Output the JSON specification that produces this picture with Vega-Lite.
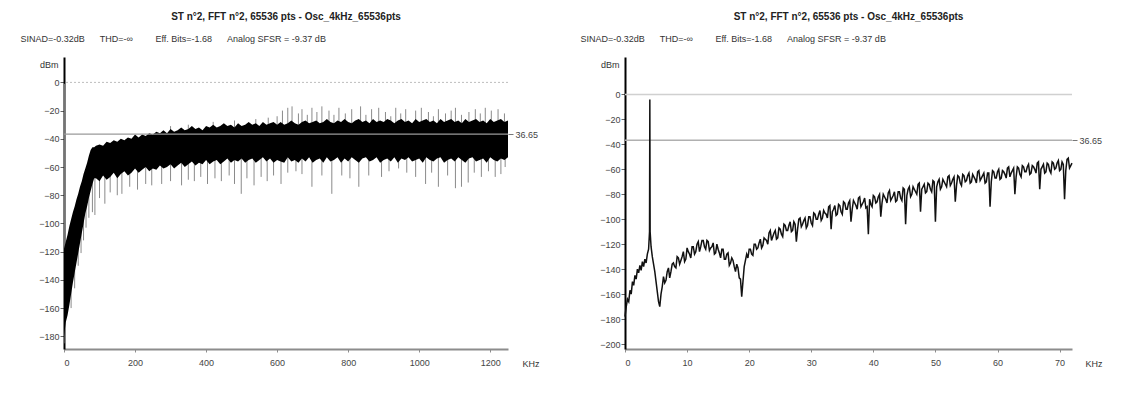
{
  "$schema": "https://vega.github.io/schema/vega-lite/v6.json",
  "background": "white",
  "padding": {"left": 20, "top": 12, "right": 0, "bottom": 0},
  "spacing": 40,
  "config": {"font": "Liberation Sans", "view": {"stroke": null}},
  "datasets": {
    "leftBand": [
      {"f":0,"hi":-118,"lo":-180},{"f":5,"hi":-113,"lo":-170},{"f":10,"hi":-108,"lo":-165},{"f":15,"hi":-102,"lo":-158},
      {"f":20,"hi":-97,"lo":-150},{"f":25,"hi":-92,"lo":-142},{"f":30,"hi":-88,"lo":-135},{"f":35,"hi":-83,"lo":-128},
      {"f":40,"hi":-79,"lo":-121},{"f":45,"hi":-74,"lo":-114},{"f":50,"hi":-70,"lo":-107},{"f":55,"hi":-65,"lo":-100},
      {"f":60,"hi":-61,"lo":-93},{"f":65,"hi":-57,"lo":-88},{"f":70,"hi":-52,"lo":-82},{"f":75,"hi":-48,"lo":-77},
      {"f":80,"hi":-46,"lo":-72},{"f":85,"hi":-46,"lo":-68},
      {"f":90,"hi":-45,"lo":-68},{"f":100,"hi":-44,"lo":-70},{"f":110,"hi":-45,"lo":-66},{"f":120,"hi":-42,"lo":-69},
      {"f":130,"hi":-43,"lo":-67},{"f":140,"hi":-41,"lo":-64},{"f":150,"hi":-42,"lo":-68},{"f":160,"hi":-40,"lo":-65},
      {"f":170,"hi":-41,"lo":-63},{"f":180,"hi":-39,"lo":-66},{"f":190,"hi":-40,"lo":-64},{"f":200,"hi":-37,"lo":-61},
      {"f":210,"hi":-39,"lo":-64},{"f":220,"hi":-37,"lo":-62},{"f":230,"hi":-38,"lo":-60},{"f":240,"hi":-36,"lo":-63},
      {"f":250,"hi":-37,"lo":-61},{"f":260,"hi":-35,"lo":-62},{"f":270,"hi":-36,"lo":-59},{"f":280,"hi":-34,"lo":-61},
      {"f":290,"hi":-36,"lo":-60},{"f":300,"hi":-33,"lo":-58},{"f":310,"hi":-35,"lo":-61},{"f":320,"hi":-34,"lo":-59},
      {"f":330,"hi":-32,"lo":-57},{"f":340,"hi":-34,"lo":-60},{"f":350,"hi":-33,"lo":-58},{"f":360,"hi":-31,"lo":-56},
      {"f":370,"hi":-33,"lo":-59},{"f":380,"hi":-32,"lo":-57},{"f":390,"hi":-34,"lo":-58},{"f":400,"hi":-31,"lo":-55},
      {"f":410,"hi":-32,"lo":-58},{"f":420,"hi":-30,"lo":-56},{"f":430,"hi":-32,"lo":-55},{"f":440,"hi":-31,"lo":-58},
      {"f":450,"hi":-29,"lo":-56},{"f":460,"hi":-31,"lo":-54},{"f":470,"hi":-30,"lo":-57},{"f":480,"hi":-32,"lo":-55},
      {"f":490,"hi":-29,"lo":-56},{"f":500,"hi":-31,"lo":-54},{"f":510,"hi":-30,"lo":-57},{"f":520,"hi":-28,"lo":-55},
      {"f":530,"hi":-30,"lo":-54},{"f":540,"hi":-29,"lo":-57},{"f":550,"hi":-31,"lo":-55},{"f":560,"hi":-28,"lo":-53},
      {"f":570,"hi":-30,"lo":-56},{"f":580,"hi":-29,"lo":-54},{"f":590,"hi":-28,"lo":-57},{"f":600,"hi":-30,"lo":-55},
      {"f":610,"hi":-28,"lo":-56},{"f":620,"hi":-30,"lo":-57},{"f":630,"hi":-29,"lo":-53},{"f":640,"hi":-27,"lo":-56},
      {"f":650,"hi":-29,"lo":-55},{"f":660,"hi":-30,"lo":-57},{"f":670,"hi":-28,"lo":-54},{"f":680,"hi":-27,"lo":-56},
      {"f":690,"hi":-29,"lo":-53},{"f":700,"hi":-28,"lo":-57},{"f":710,"hi":-27,"lo":-55},{"f":720,"hi":-29,"lo":-54},
      {"f":730,"hi":-28,"lo":-57},{"f":740,"hi":-26,"lo":-53},{"f":750,"hi":-28,"lo":-56},{"f":760,"hi":-29,"lo":-55},
      {"f":770,"hi":-27,"lo":-53},{"f":780,"hi":-28,"lo":-57},{"f":790,"hi":-26,"lo":-54},{"f":800,"hi":-28,"lo":-56},
      {"f":810,"hi":-29,"lo":-53},{"f":820,"hi":-27,"lo":-55},{"f":830,"hi":-26,"lo":-57},{"f":840,"hi":-28,"lo":-54},
      {"f":850,"hi":-27,"lo":-53},{"f":860,"hi":-29,"lo":-56},{"f":870,"hi":-26,"lo":-55},{"f":880,"hi":-28,"lo":-53},
      {"f":890,"hi":-27,"lo":-57},{"f":900,"hi":-28,"lo":-55},{"f":910,"hi":-26,"lo":-54},{"f":920,"hi":-27,"lo":-56},
      {"f":930,"hi":-29,"lo":-53},{"f":940,"hi":-27,"lo":-57},{"f":950,"hi":-26,"lo":-54},{"f":960,"hi":-28,"lo":-55},
      {"f":970,"hi":-27,"lo":-53},{"f":980,"hi":-29,"lo":-56},{"f":990,"hi":-26,"lo":-55},{"f":1000,"hi":-28,"lo":-54},
      {"f":1010,"hi":-27,"lo":-57},{"f":1020,"hi":-26,"lo":-53},{"f":1030,"hi":-28,"lo":-55},{"f":1040,"hi":-27,"lo":-56},
      {"f":1050,"hi":-29,"lo":-54},{"f":1060,"hi":-26,"lo":-53},{"f":1070,"hi":-28,"lo":-57},{"f":1080,"hi":-27,"lo":-55},
      {"f":1090,"hi":-26,"lo":-54},{"f":1100,"hi":-28,"lo":-56},{"f":1110,"hi":-27,"lo":-53},{"f":1120,"hi":-29,"lo":-55},
      {"f":1130,"hi":-26,"lo":-57},{"f":1140,"hi":-28,"lo":-54},{"f":1150,"hi":-27,"lo":-53},{"f":1160,"hi":-26,"lo":-56},
      {"f":1170,"hi":-28,"lo":-55},{"f":1180,"hi":-27,"lo":-54},{"f":1190,"hi":-29,"lo":-57},{"f":1200,"hi":-26,"lo":-53},
      {"f":1210,"hi":-28,"lo":-55},{"f":1220,"hi":-27,"lo":-56},{"f":1230,"hi":-26,"lo":-54},{"f":1240,"hi":-28,"lo":-55},
      {"f":1250,"hi":-27,"lo":-53}
    ],
    "leftSpikes": [
      {"f":1,"a":-120,"b":-1},{"f":3,"a":-140,"b":-185},{"f":20,"a":-120,"b":-160},{"f":30,"a":-110,"b":-146},
      {"f":40,"a":-100,"b":-130},{"f":48,"a":-90,"b":-121},{"f":55,"a":-80,"b":-112},{"f":62,"a":-75,"b":-103},
      {"f":70,"a":-70,"b":-96},{"f":80,"a":-60,"b":-92},
      {"f":87,"a":-50,"b":-94},{"f":100,"a":-50,"b":-82},{"f":115,"a":-50,"b":-86},{"f":130,"a":-50,"b":-78},
      {"f":150,"a":-50,"b":-80},{"f":163,"a":-50,"b":-79},{"f":185,"a":-50,"b":-74},{"f":207,"a":-50,"b":-76},
      {"f":230,"a":-50,"b":-72},{"f":247,"a":-50,"b":-73},{"f":275,"a":-50,"b":-72},{"f":300,"a":-50,"b":-70},
      {"f":331,"a":-50,"b":-73},{"f":350,"a":-50,"b":-69},{"f":367,"a":-50,"b":-70},{"f":385,"a":-50,"b":-67},
      {"f":404,"a":-50,"b":-72},{"f":425,"a":-50,"b":-68},{"f":443,"a":-50,"b":-70},{"f":465,"a":-50,"b":-66},
      {"f":480,"a":-50,"b":-72},{"f":499,"a":-50,"b":-79},{"f":515,"a":-50,"b":-68},{"f":535,"a":-50,"b":-73},
      {"f":555,"a":-50,"b":-67},{"f":572,"a":-50,"b":-70},{"f":590,"a":-50,"b":-66},{"f":611,"a":-50,"b":-72},
      {"f":630,"a":-50,"b":-64},{"f":653,"a":-50,"b":-63},{"f":670,"a":-50,"b":-65},{"f":698,"a":-50,"b":-74},
      {"f":726,"a":-50,"b":-66},{"f":754,"a":-50,"b":-79},{"f":782,"a":-50,"b":-66},{"f":805,"a":-50,"b":-68},
      {"f":830,"a":-50,"b":-74},{"f":858,"a":-50,"b":-66},{"f":894,"a":-50,"b":-67},{"f":915,"a":-50,"b":-63},
      {"f":942,"a":-50,"b":-61},{"f":965,"a":-50,"b":-64},{"f":990,"a":-50,"b":-67},{"f":1018,"a":-50,"b":-72},
      {"f":1035,"a":-50,"b":-64},{"f":1054,"a":-50,"b":-74},{"f":1080,"a":-50,"b":-66},{"f":1102,"a":-50,"b":-75},
      {"f":1119,"a":-50,"b":-74},{"f":1138,"a":-50,"b":-71},{"f":1155,"a":-50,"b":-64},{"f":1175,"a":-50,"b":-67},
      {"f":1195,"a":-50,"b":-63},{"f":1214,"a":-50,"b":-67},{"f":1230,"a":-50,"b":-65},{"f":1242,"a":-50,"b":-60},
      {"f":300,"a":-40,"b":-31},{"f":350,"a":-40,"b":-30},{"f":420,"a":-40,"b":-28},{"f":480,"a":-40,"b":-27},
      {"f":540,"a":-40,"b":-26},{"f":575,"a":-40,"b":-25},
      {"f":600,"a":-35,"b":-24},{"f":615,"a":-35,"b":-20},{"f":630,"a":-35,"b":-18},{"f":642,"a":-35,"b":-17},
      {"f":660,"a":-35,"b":-22},{"f":670,"a":-35,"b":-19},{"f":685,"a":-35,"b":-23},{"f":698,"a":-35,"b":-18},
      {"f":712,"a":-35,"b":-21},{"f":726,"a":-35,"b":-17},{"f":746,"a":-35,"b":-20},{"f":760,"a":-35,"b":-23},
      {"f":774,"a":-35,"b":-18},{"f":792,"a":-35,"b":-22},{"f":810,"a":-35,"b":-19},{"f":835,"a":-35,"b":-17},
      {"f":850,"a":-35,"b":-23},{"f":866,"a":-35,"b":-19},{"f":886,"a":-35,"b":-18},{"f":905,"a":-35,"b":-21},
      {"f":920,"a":-35,"b":-24},{"f":934,"a":-35,"b":-18},{"f":948,"a":-35,"b":-22},{"f":962,"a":-35,"b":-19},
      {"f":990,"a":-35,"b":-20},{"f":1006,"a":-35,"b":-18},{"f":1026,"a":-35,"b":-21},{"f":1040,"a":-35,"b":-24},
      {"f":1054,"a":-35,"b":-19},{"f":1074,"a":-35,"b":-22},{"f":1090,"a":-35,"b":-20},{"f":1102,"a":-35,"b":-18},
      {"f":1119,"a":-35,"b":-23},{"f":1140,"a":-35,"b":-21},{"f":1158,"a":-35,"b":-19},{"f":1172,"a":-35,"b":-22},
      {"f":1186,"a":-35,"b":-18},{"f":1203,"a":-35,"b":-20},{"f":1222,"a":-35,"b":-19},{"f":1240,"a":-35,"b":-22}
    ],
    "rightLine": [
      {"f":0,"db":-178},{"f":0.2,"db":-170},{"f":0.4,"db":-164},{"f":0.6,"db":-166},{"f":0.8,"db":-157},{"f":1.0,"db":-160},
      {"f":1.2,"db":-150},{"f":1.4,"db":-153},{"f":1.6,"db":-145},{"f":1.8,"db":-148},{"f":2.0,"db":-140},{"f":2.2,"db":-143},
      {"f":2.4,"db":-137},{"f":2.6,"db":-141},{"f":2.8,"db":-134},{"f":3.0,"db":-138},{"f":3.2,"db":-132},{"f":3.4,"db":-135},
      {"f":3.6,"db":-128},{"f":3.8,"db":-124},{"f":3.95,"db":-110},{"f":4.0,"db":-4},{"f":4.05,"db":-110},{"f":4.2,"db":-122},
      {"f":4.4,"db":-130},{"f":4.6,"db":-136},{"f":4.8,"db":-142},{"f":5.0,"db":-150},{"f":5.2,"db":-158},{"f":5.4,"db":-166},
      {"f":5.6,"db":-170},{"f":5.8,"db":-160},{"f":6.0,"db":-154},
      {"f":6.2,"db":-146},{"f":6.4,"db":-151},{"f":6.6,"db":-149},{"f":6.8,"db":-142},{"f":7.0,"db":-139},{"f":7.2,"db":-147},
      {"f":7.4,"db":-142},{"f":7.6,"db":-136},{"f":7.8,"db":-135},{"f":8.0,"db":-138},{"f":8.2,"db":-139},{"f":8.4,"db":-130},
      {"f":8.6,"db":-131},{"f":8.8,"db":-136},{"f":9.0,"db":-133},{"f":9.2,"db":-130},{"f":9.4,"db":-126},{"f":9.6,"db":-134},
      {"f":9.8,"db":-132},{"f":10.0,"db":-123},{"f":10.2,"db":-126},{"f":10.4,"db":-128},{"f":10.6,"db":-131},{"f":10.8,"db":-122},
      {"f":11.0,"db":-122},{"f":11.2,"db":-128},{"f":11.4,"db":-126},{"f":11.6,"db":-120},{"f":11.8,"db":-118},{"f":12.0,"db":-126},
      {"f":12.2,"db":-122},{"f":12.4,"db":-117},{"f":12.6,"db":-117},{"f":12.8,"db":-122},{"f":13.0,"db":-124},{"f":13.2,"db":-117},
      {"f":13.4,"db":-118},{"f":13.6,"db":-125},{"f":13.8,"db":-123},{"f":14.0,"db":-122},{"f":14.2,"db":-119},{"f":14.4,"db":-128},
      {"f":14.6,"db":-127},{"f":14.8,"db":-120},{"f":15.0,"db":-124},{"f":15.2,"db":-127},{"f":15.4,"db":-131},{"f":15.6,"db":-124},
      {"f":15.8,"db":-124},{"f":16.0,"db":-132},{"f":16.2,"db":-132},{"f":16.4,"db":-128},{"f":16.6,"db":-127},{"f":16.8,"db":-137},
      {"f":17.0,"db":-135},{"f":17.2,"db":-131},{"f":17.4,"db":-133},{"f":17.6,"db":-138},{"f":17.8,"db":-142},{"f":18.0,"db":-136},
      {"f":18.2,"db":-139},{"f":18.4,"db":-147},{"f":18.6,"db":-148},{"f":18.8,"db":-162},{"f":19.0,"db":-150},{"f":19.2,"db":-138},
      {"f":19.4,"db":-133},{"f":19.6,"db":-128},{"f":19.8,"db":-131},{"f":20.0,"db":-124},{"f":20.2,"db":-124},{"f":20.4,"db":-128},
      {"f":20.6,"db":-129},{"f":20.8,"db":-120},{"f":21.0,"db":-120},{"f":21.2,"db":-124},{"f":21.4,"db":-123},{"f":21.6,"db":-119},
      {"f":21.8,"db":-116},{"f":22.0,"db":-123},{"f":22.2,"db":-121},{"f":22.4,"db":-115},{"f":22.6,"db":-116},{"f":22.8,"db":-117},
      {"f":23.0,"db":-120},{"f":23.2,"db":-111},{"f":23.4,"db":-109},{"f":23.6,"db":-117},{"f":23.8,"db":-114},{"f":24.0,"db":-111},
      {"f":24.2,"db":-109},{"f":24.4,"db":-116},{"f":24.6,"db":-115},{"f":24.8,"db":-107},{"f":25.0,"db":-108},{"f":25.2,"db":-112},
      {"f":25.4,"db":-114},{"f":25.6,"db":-104},{"f":25.8,"db":-105},{"f":26.0,"db":-109},{"f":26.2,"db":-109},{"f":26.4,"db":-105},
      {"f":26.6,"db":-102},{"f":26.8,"db":-110},{"f":27.0,"db":-109},{"f":27.2,"db":-102},{"f":27.4,"db":-104},{"f":27.6,"db":-118},
      {"f":27.8,"db":-108},{"f":28.0,"db":-100},{"f":28.2,"db":-99},{"f":28.4,"db":-106},{"f":28.6,"db":-104},{"f":28.8,"db":-101},
      {"f":29.0,"db":-99},{"f":29.2,"db":-107},{"f":29.4,"db":-105},{"f":29.6,"db":-98},{"f":29.8,"db":-98},{"f":30.0,"db":-103},
      {"f":30.2,"db":-105},{"f":30.4,"db":-95},{"f":30.6,"db":-96},{"f":30.8,"db":-100},{"f":31.0,"db":-100},{"f":31.2,"db":-96},
      {"f":31.4,"db":-93},{"f":31.6,"db":-101},{"f":31.8,"db":-99},{"f":32.0,"db":-93},{"f":32.2,"db":-95},{"f":32.4,"db":-96},
      {"f":32.6,"db":-99},{"f":32.8,"db":-90},{"f":33.0,"db":-89},{"f":33.2,"db":-108},{"f":33.4,"db":-94},{"f":33.6,"db":-92},
      {"f":33.8,"db":-89},{"f":34.0,"db":-97},{"f":34.2,"db":-96},{"f":34.4,"db":-88},{"f":34.6,"db":-89},{"f":34.8,"db":-94},
      {"f":35.0,"db":-96},{"f":35.2,"db":-86},{"f":35.4,"db":-87},{"f":35.6,"db":-92},{"f":35.8,"db":-92},{"f":36.0,"db":-87},
      {"f":36.2,"db":-85},{"f":36.4,"db":-102},{"f":36.6,"db":-92},{"f":36.8,"db":-85},{"f":37.0,"db":-87},{"f":37.2,"db":-89},
      {"f":37.4,"db":-92},{"f":37.6,"db":-83},{"f":37.8,"db":-82},{"f":38.0,"db":-90},{"f":38.2,"db":-88},{"f":38.4,"db":-86},
      {"f":38.6,"db":-83},{"f":38.8,"db":-91},{"f":39.0,"db":-90},{"f":39.2,"db":-112},{"f":39.4,"db":-84},{"f":39.6,"db":-88},
      {"f":39.8,"db":-90},{"f":40.0,"db":-81},{"f":40.2,"db":-82},{"f":40.4,"db":-87},{"f":40.6,"db":-86},{"f":40.8,"db":-82},
      {"f":41.0,"db":-80},{"f":41.2,"db":-98},{"f":41.4,"db":-87},{"f":41.6,"db":-80},{"f":41.8,"db":-82},{"f":42.0,"db":-84},
      {"f":42.2,"db":-87},{"f":42.4,"db":-79},{"f":42.6,"db":-77},{"f":42.8,"db":-85},{"f":43.0,"db":-83},{"f":43.2,"db":-81},
      {"f":43.4,"db":-78},{"f":43.6,"db":-86},{"f":43.8,"db":-85},{"f":44.0,"db":-78},{"f":44.2,"db":-78},{"f":44.4,"db":-83},
      {"f":44.6,"db":-85},{"f":44.8,"db":-75},{"f":45.0,"db":-76},{"f":45.2,"db":-104},{"f":45.4,"db":-81},{"f":45.6,"db":-76},
      {"f":45.8,"db":-74},{"f":46.0,"db":-82},{"f":46.2,"db":-80},{"f":46.4,"db":-74},{"f":46.6,"db":-76},{"f":46.8,"db":-78},
      {"f":47.0,"db":-80},{"f":47.2,"db":-72},{"f":47.4,"db":-71},{"f":47.6,"db":-94},{"f":47.8,"db":-76},{"f":48.0,"db":-74},
      {"f":48.2,"db":-72},{"f":48.4,"db":-79},{"f":48.6,"db":-78},{"f":48.8,"db":-71},{"f":49.0,"db":-72},{"f":49.2,"db":-76},
      {"f":49.4,"db":-78},{"f":49.6,"db":-69},{"f":49.8,"db":-70},{"f":50.0,"db":-102},{"f":50.2,"db":-74},{"f":50.4,"db":-70},
      {"f":50.6,"db":-68},{"f":50.8,"db":-76},{"f":51.0,"db":-74},{"f":51.2,"db":-68},{"f":51.4,"db":-70},{"f":51.6,"db":-72},
      {"f":51.8,"db":-74},{"f":52.0,"db":-66},{"f":52.2,"db":-65},{"f":52.4,"db":-73},{"f":52.6,"db":-71},{"f":52.8,"db":-68},
      {"f":53.0,"db":-66},{"f":53.2,"db":-86},{"f":53.4,"db":-73},{"f":53.6,"db":-65},{"f":53.8,"db":-66},{"f":54.0,"db":-71},
      {"f":54.2,"db":-73},{"f":54.4,"db":-64},{"f":54.6,"db":-65},{"f":54.8,"db":-70},{"f":55.0,"db":-69},{"f":55.2,"db":-65},
      {"f":55.4,"db":-63},{"f":55.6,"db":-71},{"f":55.8,"db":-70},{"f":56.0,"db":-64},{"f":56.2,"db":-66},{"f":56.4,"db":-68},
      {"f":56.6,"db":-71},{"f":56.8,"db":-62},{"f":57.0,"db":-61},{"f":57.2,"db":-69},{"f":57.4,"db":-67},{"f":57.6,"db":-65},
      {"f":57.8,"db":-63},{"f":58.0,"db":-71},{"f":58.2,"db":-70},{"f":58.4,"db":-63},{"f":58.6,"db":-63},{"f":58.8,"db":-90},
      {"f":59.0,"db":-70},{"f":59.2,"db":-61},{"f":59.4,"db":-62},{"f":59.6,"db":-67},{"f":59.8,"db":-67},{"f":60.0,"db":-62},
      {"f":60.2,"db":-60},{"f":60.4,"db":-68},{"f":60.6,"db":-67},{"f":60.8,"db":-61},{"f":61.0,"db":-62},{"f":61.2,"db":-64},
      {"f":61.4,"db":-67},{"f":61.6,"db":-59},{"f":61.8,"db":-58},{"f":62.0,"db":-66},{"f":62.2,"db":-63},{"f":62.4,"db":-61},
      {"f":62.6,"db":-59},{"f":62.8,"db":-80},{"f":63.0,"db":-66},{"f":63.2,"db":-58},{"f":63.4,"db":-59},{"f":63.6,"db":-64},
      {"f":63.8,"db":-66},{"f":64.0,"db":-57},{"f":64.2,"db":-58},{"f":64.4,"db":-62},{"f":64.6,"db":-62},{"f":64.8,"db":-58},
      {"f":65.0,"db":-56},{"f":65.2,"db":-64},{"f":65.4,"db":-63},{"f":65.6,"db":-57},{"f":65.8,"db":-58},{"f":66.0,"db":-60},
      {"f":66.2,"db":-63},{"f":66.4,"db":-55},{"f":66.6,"db":-54},{"f":66.8,"db":-76},{"f":67.0,"db":-60},{"f":67.2,"db":-58},
      {"f":67.4,"db":-56},{"f":67.6,"db":-63},{"f":67.8,"db":-62},{"f":68.0,"db":-55},{"f":68.2,"db":-56},{"f":68.4,"db":-61},
      {"f":68.6,"db":-63},{"f":68.8,"db":-54},{"f":69.0,"db":-55},{"f":69.2,"db":-60},{"f":69.4,"db":-59},{"f":69.6,"db":-55},
      {"f":69.8,"db":-53},{"f":70.0,"db":-61},{"f":70.2,"db":-60},{"f":70.4,"db":-54},{"f":70.6,"db":-56},{"f":70.8,"db":-84},
      {"f":71.0,"db":-61},{"f":71.2,"db":-52},{"f":71.4,"db":-51},{"f":71.6,"db":-59},{"f":71.8,"db":-57},{"f":72.0,"db":-55}
    ]
  },
  "hconcat": [
    {
      "width": 444,
      "height": 292,
      "title": {"text": "ST n°2, FFT n°2, 65536 pts - Osc_4kHz_65536pts", "anchor": "middle", "frame": "group", "fontSize": 10, "fontWeight": "bold", "color": "#222", "offset": 12},
      "resolve": {"axis": {"x": "independent", "y": "independent"}},
      "layer": [
        {
          "data": {"name": "leftSpikes"},
          "mark": {"type": "rule", "color": "#8a8a8a", "strokeWidth": 1},
          "encoding": {
            "x": {"field": "f", "type": "quantitative", "scale": {"domain": [0, 1250], "nice": false, "zero": false}, "axis": null},
            "y": {"field": "a", "type": "quantitative", "scale": {"domain": [-189, 18], "nice": false, "zero": false}, "axis": null},
            "y2": {"field": "b"}
          }
        },
        {
          "data": {"values": [{}]},
          "mark": {"type": "rule", "color": "#bdbdbd", "strokeDash": [2, 2], "strokeWidth": 1},
          "encoding": {"y": {"datum": 0, "axis": null}}
        },
        {
          "data": {"name": "leftBand"},
          "mark": {"type": "area", "color": "#000000", "opacity": 1},
          "encoding": {
            "x": {"field": "f", "type": "quantitative", "axis": {"values": [0, 200, 400, 600, 800, 1000, 1200], "format": "d", "domainColor": "#8c8c8c", "domainWidth": 2, "tickColor": "#8c8c8c", "tickSize": 3, "labelPadding": 6, "labelFontSize": 9, "labelColor": "#444", "grid": false, "title": "KHz", "titleX": 458, "titleY": 14, "titleAlign": "left", "titleBaseline": "middle", "titleFontSize": 9, "titleFontWeight": "normal", "titleColor": "#333"}},
            "y": {"field": "hi", "type": "quantitative", "axis": {"values": [0, -20, -40, -60, -80, -100, -120, -140, -160, -180], "domainColor": "#000000", "domainWidth": 2, "tickColor": "#666", "tickSize": 4, "labelPadding": 1, "labelFontSize": 9, "labelColor": "#444", "grid": false, "title": "dBm", "titleAngle": 0, "titleX": -6, "titleY": 7, "titleAlign": "right", "titleBaseline": "middle", "titleFontSize": 9, "titleFontWeight": "normal", "titleColor": "#333"}},
            "y2": {"field": "lo"}
          }
        },
        {
          "data": {"values": [{}]},
          "mark": {"type": "rule", "color": "#9a9a9a", "strokeWidth": 1.2},
          "encoding": {"y": {"datum": -36.65, "axis": {"orient": "right", "values": [-36.65], "labelExpr": "'36.65'", "domain": false, "tickColor": "#777", "tickSize": 5, "labelPadding": 2, "labelFontSize": 9, "labelColor": "#444", "grid": false, "title": null}}}
        },
        {
          "data": {"values": [{}]},
          "mark": {"type": "rule", "opacity": 0},
          "encoding": {"x": {"datum": 0, "axis": {"orient": "top", "domain": false, "ticks": false, "labels": false, "grid": false, "title": "SINAD=-0.32dB\u00a0\u00a0\u00a0\u00a0\u00a0\u00a0THD=-∞\u00a0\u00a0\u00a0\u00a0\u00a0\u00a0\u00a0\u00a0\u00a0Eff. Bits=-1.68\u00a0\u00a0\u00a0\u00a0\u00a0\u00a0Analog SFSR = -9.37 dB", "titleX": -44, "titleY": -19, "titleAlign": "left", "titleBaseline": "middle", "titleFontSize": 9, "titleFontWeight": "normal", "titleColor": "#333"}}}
        }
      ]
    },
    {
      "width": 447,
      "height": 292,
      "title": {"text": "ST n°2, FFT n°2, 65536 pts - Osc_4kHz_65536pts", "anchor": "middle", "frame": "group", "fontSize": 10, "fontWeight": "bold", "color": "#222", "offset": 12},
      "resolve": {"axis": {"x": "independent", "y": "independent"}},
      "layer": [
        {
          "data": {"values": [{}]},
          "mark": {"type": "rule", "color": "#d0d0d0", "strokeWidth": 1.5},
          "encoding": {"y": {"datum": 0, "type": "quantitative", "scale": {"domain": [-204, 30], "nice": false, "zero": false}, "axis": null}}
        },
        {
          "data": {"values": [{}]},
          "mark": {"type": "rule", "color": "#b0b0b0", "strokeWidth": 1.5},
          "encoding": {"y": {"datum": -36.65, "axis": {"orient": "right", "values": [-36.65], "labelExpr": "'36.65'", "domain": false, "tickColor": "#777", "tickSize": 5, "labelPadding": 2, "labelFontSize": 9, "labelColor": "#444", "grid": false, "title": null}}}
        },
        {
          "data": {"name": "rightLine"},
          "mark": {"type": "line", "color": "#111111", "strokeWidth": 1.5},
          "encoding": {
            "x": {"field": "f", "type": "quantitative", "scale": {"domain": [0, 72], "nice": false, "zero": false}, "axis": {"values": [0, 10, 20, 30, 40, 50, 60, 70], "format": "d", "domainColor": "#8c8c8c", "domainWidth": 2, "tickColor": "#8c8c8c", "tickSize": 3, "labelPadding": 6, "labelFontSize": 9, "labelColor": "#444", "grid": false, "title": "KHz", "titleX": 460, "titleY": 14, "titleAlign": "left", "titleBaseline": "middle", "titleFontSize": 9, "titleFontWeight": "normal", "titleColor": "#333"}},
            "y": {"field": "db", "type": "quantitative", "axis": {"values": [0, -20, -40, -60, -80, -100, -120, -140, -160, -180, -200], "domainColor": "#000000", "domainWidth": 2, "tickColor": "#666", "tickSize": 4, "labelPadding": 1, "labelFontSize": 9, "labelColor": "#444", "grid": false, "title": "dBm", "titleAngle": 0, "titleX": -6, "titleY": 7, "titleAlign": "right", "titleBaseline": "middle", "titleFontSize": 9, "titleFontWeight": "normal", "titleColor": "#333"}}
          }
        },
        {
          "data": {"values": [{}]},
          "mark": {"type": "rule", "opacity": 0},
          "encoding": {"x": {"datum": 0, "axis": {"orient": "top", "domain": false, "ticks": false, "labels": false, "grid": false, "title": "SINAD=-0.32dB\u00a0\u00a0\u00a0\u00a0\u00a0\u00a0THD=-∞\u00a0\u00a0\u00a0\u00a0\u00a0\u00a0\u00a0\u00a0\u00a0Eff. Bits=-1.68\u00a0\u00a0\u00a0\u00a0\u00a0\u00a0Analog SFSR = -9.37 dB", "titleX": -45, "titleY": -19, "titleAlign": "left", "titleBaseline": "middle", "titleFontSize": 9, "titleFontWeight": "normal", "titleColor": "#333"}}}
        }
      ]
    }
  ]
}
